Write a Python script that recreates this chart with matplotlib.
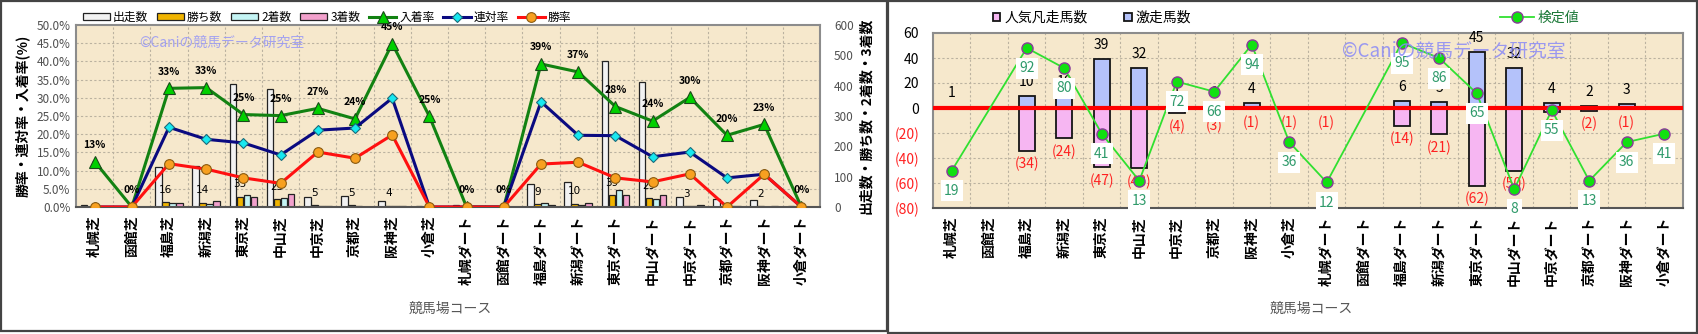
import matplotlib
matplotlib.use("Agg")
import matplotlib.pyplot as plt
from matplotlib.patches import Rectangle
import numpy as np

plt.rcParams['font.family'] = ['Noto Sans CJK JP', 'DejaVu Sans']

courses = ["札幌芝", "函館芝", "福島芝", "新潟芝", "東京芝", "中山芝", "中京芝", "京都芝", "阪神芝", "小倉芝",
           "札幌ダート", "函館ダート", "福島ダート", "新潟ダート", "東京ダート", "中山ダート", "中京ダート",
           "京都ダート", "阪神ダート", "小倉ダート"]

# left chart: counts
runs = [8, 0, 132, 134, 406, 388, 33, 37, 20, 4, 8, 0, 76, 81, 480, 413, 33, 25, 22, 2]
wins = [0, 0, 16, 14, 33, 25, 5, 5, 4, 0, 0, 0, 9, 10, 39, 29, 3, 0, 2, 0]
seconds = [0, 0, 13, 11, 38, 30, 2, 3, 2, 0, 0, 0, 13, 6, 55, 28, 2, 2, 0, 0]
thirds = [1, 0, 14, 19, 32, 42, 2, 1, 3, 1, 0, 0, 8, 14, 38, 40, 5, 3, 3, 0]
# left chart: rates (%)
place_rate = [12.5, 0, 32.6, 32.8, 25.4, 25.1, 27.1, 24.2, 44.9, 24.9, 0, 0, 39.3, 37.1, 27.6, 23.6, 30.1, 19.7, 22.7, 0]
quinella_rate = [0, 0, 21.9, 18.6, 17.6, 14.3, 21.1, 21.7, 29.9, 0, 0, 0, 28.9, 19.7, 19.6, 13.8, 15.1, 8.0, 9.0, 0]
win_rate = [0, 0, 11.9, 10.4, 8.0, 6.5, 15.1, 13.4, 19.8, 0, 0, 0, 11.8, 12.3, 8.0, 6.9, 9.1, 0, 9.0, 0]

# right chart
hot_runners = [1, 0, 10, 10, 39, 32, 1, 1, 4, 0, 0, 0, 6, 5, 45, 32, 4, 2, 3, 0]      # 激走馬数
flop_runners = [0, 0, 34, 24, 47, 48, 4, 3, 1, 1, 1, 0, 14, 21, 62, 50, 3, 2, 1, 0]   # 人気凡走馬数
test_value = [19, None, 92, 80, 41, 13, 72, 66, 94, 36, 12, None, 95, 86, 65, 8, 55, 13, 36, 41]

W, H = 1699, 334
x = np.arange(len(courses))
watermark = "©Caniの競馬データ研究室"
BG = "#F6E8CC"
GRID = dict(color="#BBB2A0", lw=0.8, ls=(0, (2, 2)))


def frac(px, py, w, h):
    return [px / W, 1 - (py + h) / H, w / W, h / H]


fig = plt.figure(figsize=(W / 100, H / 100), dpi=100)

# panel frames
fig.patches.append(Rectangle((1 / W, 1 - 331 / H), 886 / W, 330 / H, transform=fig.transFigure,
                             fill=False, ec="#444444", lw=1.6))
fig.patches.append(Rectangle((888 / W, 1 - 333 / H), 809 / W, 332 / H, transform=fig.transFigure,
                             fill=False, ec="#444444", lw=1.6))

# ---------------- left chart ----------------
ax_cnt = fig.add_axes(frac(76, 25, 744, 182))
ax_rate = ax_cnt.twinx()
ax_cnt.set_facecolor(BG)
ax_cnt.set_xlim(-0.5, len(courses) - 0.5)
ax_cnt.set_ylim(0, 600)
for yv in np.arange(60, 600, 60):
    ax_cnt.axhline(yv, zorder=0, **GRID)
for xv in x[:-1] + 0.5:
    ax_cnt.axvline(xv, zorder=0, **GRID)

bw = 0.18
bar_specs = [(runs, "#F2F2F2", "出走数"), (wins, "#F0B400", "勝ち数"),
             (seconds, "#C4F4F4", "2着数"), (thirds, "#F2A0CC", "3着数")]
handles = []
for k, (vals, col, lab) in enumerate(bar_specs):
    b = ax_cnt.bar(x + (k - 1.5) * bw * 1.05, vals, bw, color=col, edgecolor="#222222", lw=0.9,
                   label=lab, zorder=2)
    handles.append(b)
for i, v in enumerate(wins):
    if v > 0:
        ax_cnt.annotate(str(v), (x[i] - 0.5 * bw * 1.05, v), xytext=(0, 9), textcoords="offset points",
                        ha="center", va="center", fontsize=7.5, family=["DejaVu Sans"], zorder=3)

# counts on the right, rates on the left
ax_cnt.yaxis.tick_right()
ax_cnt.set_yticks(range(0, 601, 100))
ax_cnt.tick_params(axis="y", length=0, labelsize=8.5, labelcolor="#505050", pad=10,
                   labelleft=False, labelright=True)
ax_cnt.set_xticks(x)
ax_cnt.set_xticklabels(courses, rotation=90, fontsize=10, fontweight="bold")
ax_cnt.tick_params(axis="x", length=0, pad=6)
for s in ax_cnt.spines.values():
    s.set_color("#8C8C8C")
    s.set_linewidth(1.5)
ax_cnt.spines["bottom"].set_color("#555555")

ax_rate.set_ylim(0, 50)
ax_rate.yaxis.tick_left()
ax_rate.set_yticks(np.arange(0, 50.1, 5))
ax_rate.set_yticklabels([f"{v:.1f}%" for v in np.arange(0, 50.1, 5)])
ax_rate.tick_params(axis="y", length=0, labelsize=8.5, labelcolor="#505050", pad=4,
                    labelleft=True, labelright=False)
for s in ax_rate.spines.values():
    s.set_visible(False)

l1, = ax_rate.plot(x, place_rate, color="#128212", lw=2.2, marker="^", ms=8.5, mfc="#00D000",
                   mec="#1A4A1A", mew=0.8, label="入着率", zorder=3)
l2, = ax_rate.plot(x, quinella_rate, color="#0A0A80", lw=2.2, marker="D", ms=5, mfc="#18E8F0",
                   mec="#1A6A7A", mew=0.8, label="連対率", zorder=4)
l3, = ax_rate.plot(x, win_rate, color="#FF1010", lw=2.2, marker="o", ms=7, mfc="#F7A020",
                   mec="#8A5A10", mew=0.8, label="勝率", zorder=5)
for i, v in enumerate(place_rate):
    ax_rate.annotate(f"{int(v + 0.5)}%", (x[i], v), xytext=(0, 12), textcoords="offset points",
                     ha="center", va="center", fontsize=7.5, fontweight="bold", zorder=6)
ax_rate.text(0.085, 0.9, watermark, transform=ax_rate.transAxes, fontsize=10, color="#9A9AF4",
             alpha=0.9, ha="left", va="center", zorder=7)

fig.legend(handles + [l1, l2, l3], [h.get_label() for h in handles + [l1, l2, l3]],
           loc="center", bbox_to_anchor=(327 / W, 1 - 17 / H), ncol=7, frameon=False, fontsize=8.5,
           handlelength=2.3, handleheight=0.5, handletextpad=0.25, columnspacing=0.75)

fig.text(22 / W, 1 - 116 / H, "勝率・連対率・入着率(%)", rotation=90, ha="center", va="center",
         fontsize=10, fontweight="bold")
fig.text(866 / W, 1 - 116 / H, "出走数・勝ち数・2着数・3着数", rotation=90, ha="center", va="center",
         fontsize=10, fontweight="bold")
fig.text(450 / W, 1 - 309 / H, "競馬場コース", ha="center", va="center", fontsize=10, color="#555555")

# ---------------- right chart ----------------
ax_r = fig.add_axes(frac(933, 33, 750, 175))
ax_r.set_facecolor(BG)
ax_r.set_xlim(-0.5, len(courses) - 0.5)
ax_r.set_ylim(-80, 60)
for yv in range(-60, 60, 20):
    ax_r.axhline(yv, zorder=0, **GRID)
for xv in x[:-1] + 0.5:
    ax_r.axvline(xv, zorder=0, **GRID)

rbw = 0.42
b_hot = ax_r.bar(x, hot_runners, rbw, color="#B4C2FA", edgecolor="#151515", lw=1.3, zorder=2,
                 label="激走馬数")
b_flop = ax_r.bar(x, [-v for v in flop_runners], rbw, color="#F6B6F2", edgecolor="#151515", lw=1.3,
                  zorder=2, label="人気凡走馬数")
ax_r.axhline(0, color="#FF0000", lw=3, zorder=3)
for i in range(len(courses)):
    if hot_runners[i] > 0:
        ax_r.annotate(str(hot_runners[i]), (x[i], hot_runners[i]), xytext=(0, 10), textcoords="offset points",
                      ha="center", va="center", fontsize=10, zorder=4)
    if flop_runners[i] > 0:
        ax_r.annotate(f"({flop_runners[i]})", (x[i], -flop_runners[i]), xytext=(0, -10),
                      textcoords="offset points", ha="center", va="center", fontsize=10,
                      color="#FF2020", zorder=4)

yt = list(range(-80, 61, 20))
ax_r.set_yticks(yt)
ax_r.set_yticklabels([str(v) if v >= 0 else f"({-v})" for v in yt])
for lab, v in zip(ax_r.get_yticklabels(), yt):
    lab.set_color("#000000" if v >= 0 else "#FF2020")
ax_r.tick_params(axis="y", length=0, labelsize=10, pad=10)
ax_r.set_xticks(x)
ax_r.set_xticklabels(courses, rotation=90, fontsize=10, fontweight="bold")
ax_r.tick_params(axis="x", length=0, pad=6)
for s in ax_r.spines.values():
    s.set_color("#8C8C8C")
    s.set_linewidth(1.5)
ax_r.spines["bottom"].set_color("#555555")

ax_t = ax_r.twinx()
ax_t.set_ylim(-3.2, 100.9)
ax_t.set_yticks([])
for s in ax_t.spines.values():
    s.set_visible(False)
tx = [i for i, v in enumerate(test_value) if v is not None]
tv = [test_value[i] for i in tx]
l_test, = ax_t.plot(tx, tv, color="#30E030", lw=1.3, marker="o", ms=8, mfc="#10E010", mec="#8A3A9A",
                    mew=1.0, label="検定値", zorder=3)
for i, v in zip(tx, tv):
    ax_t.annotate(str(v), (i, v), xytext=(0, -14.5), textcoords="offset points", ha="center",
                  va="center", fontsize=10, color="#2E9A6A", zorder=5,
                  bbox=dict(boxstyle="square,pad=0.25", fc="white", ec="none"))
ax_t.text(0.545, 0.895, watermark, transform=ax_t.transAxes, fontsize=13.5, color="#8A8AF6",
          alpha=0.85, ha="left", va="center", zorder=8)

fig.legend([b_flop, b_hot], ["人気凡走馬数", "激走馬数"], loc="center",
           bbox_to_anchor=(1092 / W, 1 - 18 / H), ncol=2, frameon=False, fontsize=10,
           handlelength=0.55, handleheight=0.55, handletextpad=0.3, columnspacing=2.6)
fig.legend([l_test], ["検定値"], loc="center", bbox_to_anchor=(1540 / W, 1 - 18 / H), frameon=False,
           fontsize=10, handlelength=2.4, handletextpad=0.3, labelcolor="#1E7A3A")
fig.text(1311 / W, 1 - 309 / H, "競馬場コース", ha="center", va="center", fontsize=10, color="#555555")

fig.savefig("out.png", dpi=100)
